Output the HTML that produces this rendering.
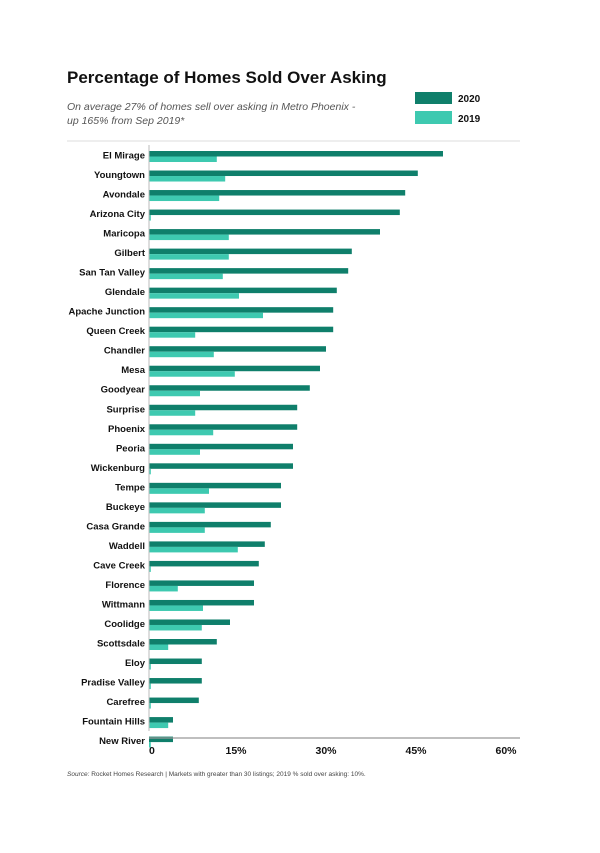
<!DOCTYPE html>
<html><head><meta charset="utf-8"><style>
body{margin:0;background:#fff;font-family:"Liberation Sans",sans-serif;}
#wrap{position:relative;width:600px;height:853px;overflow:hidden;}
</style></head><body>
<div id="wrap">
<svg id="chart" width="600" height="853" xmlns="http://www.w3.org/2000/svg">
<text x="67" y="83" font-size="17" font-weight="bold" fill="#111">Percentage of Homes Sold Over Asking</text>
<text x="67" y="110" font-size="10.5" font-style="italic" fill="#555">On average 27% of homes sell over asking in Metro Phoenix -</text>
<text x="67" y="124" font-size="10.5" font-style="italic" fill="#555">up 165% from Sep 2019*</text>
<rect x="415" y="92" width="37" height="12" fill="#0f7f6b"/>
<text x="458" y="102" font-size="10" font-weight="bold" fill="#111">2020</text>
<rect x="415" y="111" width="37" height="13" fill="#3ec9b0"/>
<text x="458" y="122" font-size="10" font-weight="bold" fill="#111">2019</text>
<line x1="67" y1="141" x2="520" y2="141" stroke="#ddd" stroke-width="1"/>
<g id="bars"></g>
<line x1="149" y1="145" x2="149" y2="731" stroke="#bbb" stroke-width="1"/>
<line x1="149" y1="738" x2="520" y2="738" stroke="#999" stroke-width="1.2"/>
<g id="ticks"></g>
<text x="67" y="776" font-size="6.5" fill="#444"><tspan font-style="italic">Source:</tspan> Rocket Homes Research | Markets with greater than 30 listings; 2019 % sold over asking: 10%.</text>
</svg>
</div>
<script>
const categories=["El Mirage","Youngtown","Avondale","Arizona City","Maricopa","Gilbert","San Tan Valley","Glendale","Apache Junction","Queen Creek","Chandler","Mesa","Goodyear","Surprise","Phoenix","Peoria","Wickenburg","Tempe","Buckeye","Casa Grande","Waddell","Cave Creek","Florence","Wittmann","Coolidge","Scottsdale","Eloy","Pradise Valley","Carefree","Fountain Hills","New River"];
const values2020=[49,44.8,42.7,41.8,38.5,33.8,33.2,31.3,30.7,30.7,29.5,28.5,26.8,24.7,24.7,24,24,22,22,20.3,19.3,18.3,17.5,17.5,13.5,11.3,8.8,8.8,8.3,4,4];
const values2019=[11.3,12.7,11.7,0.3,13.3,13.3,12.3,15,19,7.7,10.8,14.3,8.5,7.7,10.7,8.5,0.3,10,9.3,9.3,14.8,0.3,4.8,9,8.8,3.2,0.3,0.3,0.3,3.2,0.3];
const tickValues=[0,15,30,45,60];
const tickLabels=["0","15%","30%","45%","60%"];
const NS="http://www.w3.org/2000/svg";
const x0=149,pxPer=6.0;
function xScale(v){return x0+v*pxPer;}
function yScale(i){return 155+i*19.52;}
const bars=document.getElementById('bars');
function mk(tag,attrs){const e=document.createElementNS(NS,tag);for(const k in attrs)e.setAttribute(k,attrs[k]);return e;}
categories.forEach((c,i)=>{
  const y=yScale(i);
  const t=mk('text',{x:145,y:y+3.5,'font-size':'9.5','font-weight':'bold','text-anchor':'end',fill:'#111'});
  t.textContent=c;
  
  
  bars.appendChild(t);
  const b1=mk('rect',{x:x0,y:y-4,width:Math.max(0,xScale(values2020[i])-x0),height:5.5,fill:'#0f7f6b'});
  
  
  bars.appendChild(b1);
  const b2=mk('rect',{x:x0,y:y+1.5,width:Math.max(0,xScale(values2019[i])-x0),height:5.5,fill:'#3ec9b0'});
  
  
  bars.appendChild(b2);
});
const ticks=document.getElementById('ticks');
tickValues.forEach((v,i)=>{
  const t=mk('text',{x:i===0?x0:xScale(v)-3,y:754,'font-size':'10.5','font-weight':'bold','text-anchor':i===0?'start':'middle',fill:'#111'});
  t.textContent=tickLabels[i];
  
  
  ticks.appendChild(t);
});
</script>
</body></html>
